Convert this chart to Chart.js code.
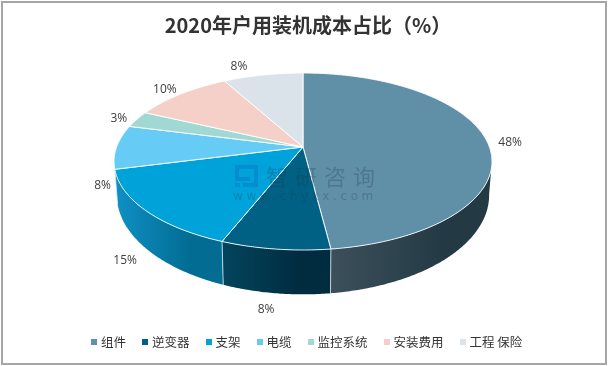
<!DOCTYPE html>
<html>
<head>
<meta charset="utf-8">
<script src="https://cdn.jsdelivr.net/npm/chart.js@4"></script>
<style>
    html, body { margin: 0; padding: 0; background: #fff; }
    #frame { position: absolute; left: 1px; top: 1px; width: 606px; height: 364px; box-sizing: border-box; border: 2px solid #a6a6a6; }
    canvas { position: absolute; left: 0; top: 0; }
</style>
</head>
<body>
<canvas id="myChart" width="608" height="366"></canvas>
<div id="frame"></div>
<script>
const categories = ['组件', '逆变器', '支架', '电缆', '监控系统', '安装费用', '工程 保险'];
const shares = [48, 8, 15, 8, 3, 10, 8];
const topColors = ['#5f90a8', '#006184', '#00a2da', '#66ccf5', '#a2d8d3', '#f5d0c8', '#dbe3ea'];
// wall colour at the left and the right of each slice
const wallLeft = ['#3c505b', '#03455e', '#0f90c4', '#0f90c4', '#7fa9a5', '#c0a29c', '#aab1b7'];
const wallRight = ['#233a44', '#012c40', '#026c93', '#0f90c4', '#7fa9a5', '#c0a29c', '#aab1b7'];

// how far each label sits from the rim point of its slice
const labelShift = [[23, 1], [-9, 61], [-21, 50], [-14, 39], [-18, -1], [-16, -4], [-24, -8]];

// the tilted pie: a circle seen in perspective
const CX = 303, CY = 147, RX = 186.4, RY = 86.1, P = 0.164;
const START = 99 * Math.PI / 180 - Math.PI / 2;
const END = 261 * Math.PI / 180 - Math.PI / 2;

function topPoint(a) {
    const u = Math.cos(a), v = Math.sin(a), s = 1 / (1 - P * v);
    return [CX + RX * u * s, CY + RY * v * s];
}

function lowPoint(a) {
    const u = Math.cos(a), v = Math.sin(a), s = 1 / (1 - P * v);
    return [CX + RX * u * s * 0.985, CY + 32 + RY * v * s * 1.12];
}

function arcSteps(from, to) {
    const out = [];
    const n = Math.max(2, Math.ceil((to - from) / 0.01));
    for (let i = 0; i <= n; i++) {
        out.push(from + (to - from) * i / n);
    }
    return out;
}

function drawWall(ctx, el, i) {
    const from = Math.max(el.startAngle, START);
    const to = Math.min(el.endAngle, END);
    if (to <= from) return;
    const steps = arcSteps(from, to);
    const tops = steps.map(topPoint);
    const lows = steps.map(lowPoint).reverse();
    const xs = tops.concat(lows).map(p => p[0]);
    const grad = ctx.createLinearGradient(Math.min(...xs), 0, Math.max(...xs), 0);
    grad.addColorStop(0, wallLeft[i]);
    grad.addColorStop(0.7, wallRight[i]);
    ctx.beginPath();
    tops.concat(lows).forEach((p, k) => k ? ctx.lineTo(p[0], p[1]) : ctx.moveTo(p[0], p[1]));
    ctx.closePath();
    ctx.fillStyle = grad;
    ctx.fill();
    // light seam between two walls
    ctx.strokeStyle = 'rgba(225,235,240,0.8)';
    ctx.lineWidth = 1;
    ctx.beginPath();
    if (el.startAngle > START) {
        ctx.moveTo(tops[0][0], tops[0][1]);
        ctx.lineTo(lows[lows.length - 1][0], lows[lows.length - 1][1]);
    }
    ctx.stroke();
}

function drawTop(ctx, el, i) {
    ctx.beginPath();
    ctx.moveTo(CX, CY);
    arcSteps(el.startAngle, el.endAngle).map(topPoint).forEach(p => ctx.lineTo(p[0], p[1]));
    ctx.closePath();
    ctx.fillStyle = topColors[i];
    ctx.fill();
    ctx.strokeStyle = 'rgba(255,255,255,0.9)';
    ctx.lineWidth = 1;
    ctx.stroke();
}

function drawWatermark(ctx) {
    ctx.save();
    // logo
    ctx.fillStyle = 'rgba(20,90,190,0.3)';
    ctx.fillRect(235, 165, 23, 4);
    ctx.fillRect(235, 169, 4, 8);
    ctx.fillRect(254, 169, 4, 18);
    ctx.fillRect(235, 177, 15, 4);
    ctx.fillRect(235, 183, 5, 4);
    ctx.fillRect(243, 183, 11, 4);
    ctx.fillStyle = 'rgba(30,50,70,0.27)';
    ctx.textAlign = 'left';
    ctx.textBaseline = 'alphabetic';
    ctx.font = '22px "Noto Sans CJK SC"';
    ctx.letterSpacing = '7px';
    ctx.fillText('智研咨询', 266, 185);
    ctx.font = '12px "DejaVu Sans"';
    ctx.letterSpacing = '3.6px';
    ctx.fillText('www.chyxx.com', 233, 200);
    ctx.restore();
}

const pie3d = {
    id: 'pie3d',
    beforeDatasetsDraw(chart) {
        const ctx = chart.ctx;
        const arcs = chart.getDatasetMeta(0).data;
        ctx.save();
        arcs.forEach((el, i) => drawWall(ctx, el, i));
        arcs.forEach((el, i) => drawTop(ctx, el, i));
        ctx.font = '12px "Open Sans"';
        ctx.fillStyle = '#404040';
        ctx.textAlign = 'center';
        ctx.textBaseline = 'middle';
        arcs.forEach((el, i) => {
            const p = topPoint((el.startAngle + el.endAngle) / 2);
            ctx.fillText(shares[i] + '%', p[0] + labelShift[i][0], p[1] + labelShift[i][1]);
        });
        drawWatermark(ctx);
        ctx.restore();
        return false;
    }
};

function legendMark(color) {
    const c = document.createElement('canvas');
    c.width = 6;
    c.height = 6;
    const g = c.getContext('2d');
    g.fillStyle = color;
    g.fillRect(0, 0, 6, 6);
    return c;
}

new Chart(document.getElementById('myChart'), {
    type: 'pie',
    data: {
        labels: categories,
        datasets: [{ data: shares, backgroundColor: topColors, borderWidth: 0 }]
    },
    options: {
        responsive: false,
        animation: false,
        layout: { padding: { left: 8, bottom: 8, top: 13 } },
        plugins: {
            title: {
                display: true,
                text: '2020年户用装机成本占比（%）',
                color: '#333333',
                font: { family: '"Noto Sans CJK SC"', size: 20, weight: 'bold' },
                padding: { top: 0, bottom: 10 }
            },
            legend: {
                position: 'bottom',
                labels: {
                    usePointStyle: true,
                    boxWidth: 1,
                    boxHeight: 6,
                    padding: 18.75,
                    color: '#333333',
                    font: { family: '"Noto Sans CJK SC"', size: 12.5 },
                    generateLabels: chart => chart.data.labels.map((text, i) => ({
                        text: text,
                        index: i,
                        fontColor: '#333333',
                        fillStyle: topColors[i],
                        strokeStyle: topColors[i],
                        lineWidth: 0,
                        pointStyle: legendMark(topColors[i])
                    }))
                }
            },
            tooltip: { enabled: false }
        }
    },
    plugins: [pie3d]
});
</script>
</body>
</html>
